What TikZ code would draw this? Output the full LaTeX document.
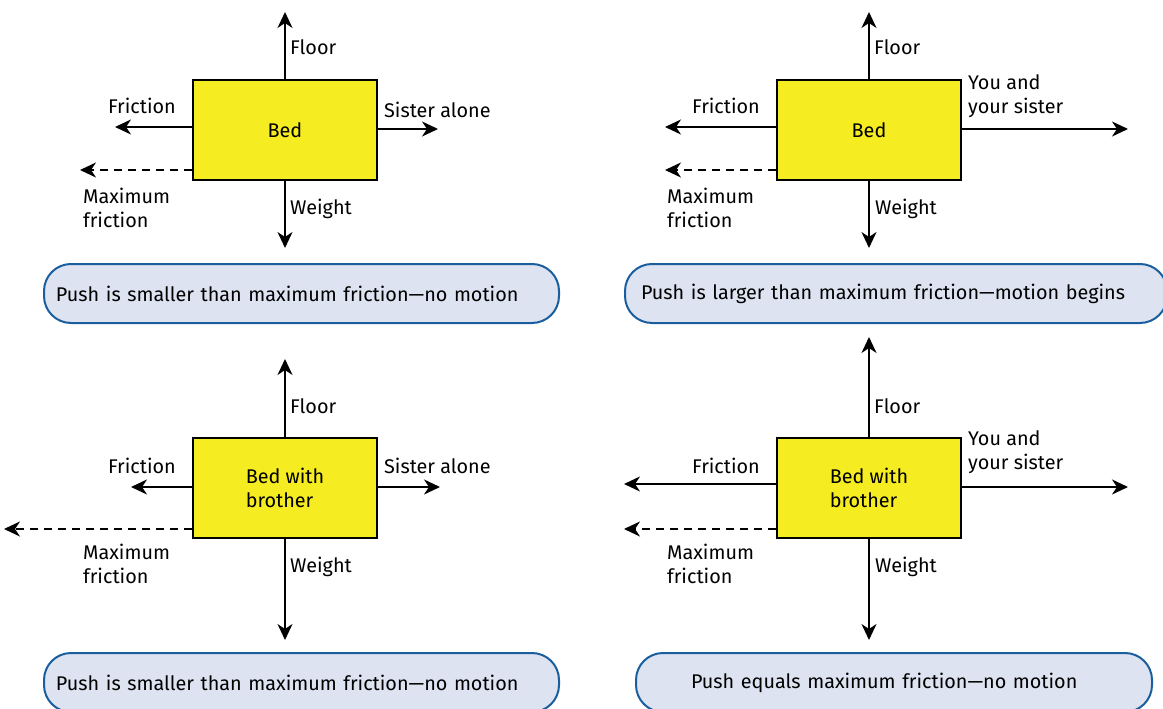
\documentclass[tikz,border=0pt]{standalone}
\usepackage{fontspec}
\setmainfont{Fira Sans}
\usetikzlibrary{arrows.meta}
\definecolor{bedyellow}{RGB}{245,236,34}
\definecolor{capfill}{RGB}{221,227,241}
\definecolor{capline}{RGB}{26,94,158}
\tikzset{
  txt/.style={font=\fontsize{19.8}{24}\selectfont},
  bedbox/.style={txt, draw=black, line width=2.2pt, fill=bedyellow, minimum width=184pt, minimum height=100pt, inner sep=0pt, align=left},
  force/.style={-{Stealth[length=16pt,width=15pt,inset=5pt]}, line width=2.2pt},
  maxforce/.style={force, dash pattern=on 8pt off 6pt},
  lbl/.style={txt, anchor=west, inner sep=0pt, align=left},
  capbox/.style={txt, draw=capline, line width=2pt, fill=capfill, rounded corners=27pt, minimum height=59pt, inner xsep=12pt, inner ysep=0pt, align=left, anchor=north west}
}
\begin{document}
\begin{tikzpicture}[x=1pt,y=-1pt]
\path[use as bounding box] (0,0) rectangle (1163,709);
\clip (0,0) rectangle (1163,709);

% ---------- Panel 1 (top left) ----------
\node[bedbox] (b1) at (285,130) {Bed};
\coordinate (fl1) at (284,12);
\coordinate (fr1) at (115,127);
\coordinate (pu1) at (438,129);
\coordinate (mf1) at (80,170);
\coordinate (we1) at (284,248);
\draw[force] (b1.north) -- (b1.north |- fl1);
\draw[force] (b1.south) -- (b1.south |- we1);
\draw[force] (b1.west |- fr1) -- (fr1);
\draw[force] (b1.east |- pu1) -- (pu1);
\draw[maxforce] (b1.west |- mf1) -- (mf1);
\node[lbl] (l1a) at (290,47) {Floor};
\node[lbl] (l1b) at (108,106) {Friction};
\node[lbl] (l1c) at (384,110) {Sister alone};
\node[lbl] (l1d) at (83,208) {Maximum\\friction};
\node[lbl] (l1e) at (290,209) {Weight};
\node[capbox, text width=491pt] (c1) at (43,263) {Push is smaller than maximum friction---no motion};

% ---------- Panel 2 (top right) ----------
\node[bedbox] (b2) at (869,130) {Bed};
\coordinate (fl2) at (868,12);
\coordinate (fr2) at (665,127);
\coordinate (pu2) at (1128,129);
\coordinate (mf2) at (665,170);
\coordinate (we2) at (868,248);
\draw[force] (b2.north) -- (b2.north |- fl2);
\draw[force] (b2.south) -- (b2.south |- we2);
\draw[force] (b2.west |- fr2) -- (fr2);
\draw[force] (b2.east |- pu2) -- (pu2);
\draw[maxforce] (b2.west |- mf2) -- (mf2);
\node[lbl] (l2a) at (874,47) {Floor};
\node[lbl] (l2b) at (692,106) {Friction};
\node[lbl] (l2c) at (968,96) {You and\\your sister};
\node[lbl] (l2d) at (667,208) {Maximum\\friction};
\node[lbl] (l2e) at (875,209) {Weight};
\node[capbox, text width=510pt, inner xsep=16pt] (c2) at (624,263) {Push is larger than maximum friction---motion begins};

% ---------- Panel 3 (bottom left) ----------
\node[bedbox] (b3) at (285,488) {Bed with\\brother};
\coordinate (fl3) at (284,359);
\coordinate (fr3) at (131,487);
\coordinate (pu3) at (440,487);
\coordinate (mf3) at (4,529);
\coordinate (we3) at (284,640);
\draw[force] (b3.north) -- (b3.north |- fl3);
\draw[force] (b3.south) -- (b3.south |- we3);
\draw[force] (b3.west |- fr3) -- (fr3);
\draw[force] (b3.east |- pu3) -- (pu3);
\draw[maxforce] (b3.west |- mf3) -- (mf3);
\node[lbl] (l3a) at (290,406) {Floor};
\node[lbl] (l3b) at (108,466) {Friction};
\node[lbl] (l3c) at (384,466) {Sister alone};
\node[lbl] (l3d) at (83,564) {Maximum\\friction};
\node[lbl] (l3e) at (290,567) {Weight};
\node[capbox, text width=491pt] (c3) at (43,652) {Push is smaller than maximum friction---no motion};

% ---------- Panel 4 (bottom right) ----------
\node[bedbox] (b4) at (869,488) {Bed with\\brother};
\coordinate (fl4) at (868,337);
\coordinate (fr4) at (624,484);
\coordinate (pu4) at (1128,487);
\coordinate (mf4) at (624,529);
\coordinate (we4) at (868,640);
\draw[force] (b4.north) -- (b4.north |- fl4);
\draw[force] (b4.south) -- (b4.south |- we4);
\draw[force] (b4.west |- fr4) -- (fr4);
\draw[force] (b4.east |- pu4) -- (pu4);
\draw[maxforce] (b4.west |- mf4) -- (mf4);
\node[lbl] (l4a) at (874,406) {Floor};
\node[lbl] (l4b) at (692,466) {Friction};
\node[lbl] (l4c) at (968,452) {You and\\your sister};
\node[lbl] (l4d) at (667,564) {Maximum\\friction};
\node[lbl] (l4e) at (875,567) {Weight};
\node[capbox, text width=406pt, inner xsep=55pt] (c4) at (635,652) {Push equals maximum friction---no motion};
\end{tikzpicture}
\end{document}
